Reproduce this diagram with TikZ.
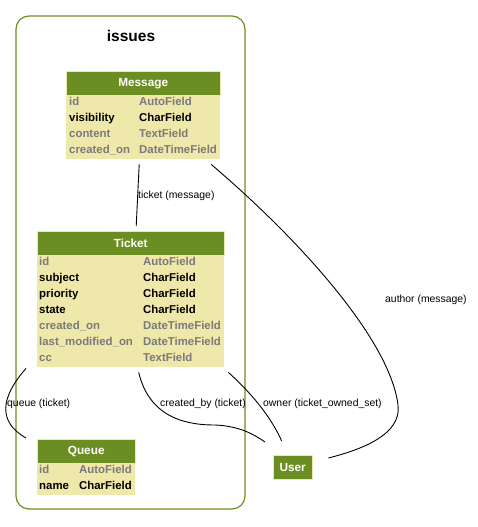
\documentclass[tikz,border=0pt]{standalone}
\usepackage{fontspec}
\setmainfont{Liberation Sans}
\definecolor{olivedrab}{HTML}{6B8E23}
\definecolor{palegold}{HTML}{EEE8AA}
\definecolor{fieldgray}{HTML}{7A7A7A}
\tikzset{
    modelhead/.style={fill=olivedrab, draw=palegold, inner sep=0pt, text=white,
        font=\fontsize{11.8}{13}\selectfont\bfseries, anchor=north west},
    modelbody/.style={fill=palegold, inner sep=0pt, anchor=north west},
    fieldtext/.style={anchor=west, inner sep=0pt, text height=1.5ex, text depth=.25ex,
        font=\fontsize{11.4}{13}\selectfont\bfseries},
    edgelabel/.style={anchor=west, inner sep=0pt, font=\fontsize{10.4}{12}\selectfont},
    relation/.style={line width=0.9pt, black},
}

\begin{document}
\begin{tikzpicture}[x=1pt, y=-1pt]
            \useasboundingbox (0,0) rectangle (478,527);
            % app cluster
            \draw [olivedrab, line width=1.2pt, rounded corners=13pt] (16,16) rectangle (245,509);
            \node [font=\fontsize{15.5}{18}\selectfont\bfseries] (title) at (131,36) {issues};

            % models
            \node [modelhead, minimum width=154pt, minimum height=24pt] (message) at (66,71) {Message};
            \node [modelbody, minimum width=154pt, minimum height=64pt] (messagebody) at (66,95) {};
            \foreach \f/\t/\c [count=\i from 0] in {id/AutoField/fieldgray, visibility/CharField/black,
                content/TextField/fieldgray, created\_on/DateTimeField/fieldgray}{
                \node [fieldtext, text=\c] (msgf\i) at (69,{102+16*\i}) {\f};
                \node [fieldtext, text=\c] (msgt\i) at (139,{102+16*\i}) {\t};
            }

            \node [modelhead, minimum width=187pt, minimum height=24pt] (ticket) at (37,231) {Ticket};
            \node [modelbody, minimum width=187pt, minimum height=112pt] (ticketbody) at (37,255) {};
            \foreach \f/\t/\c [count=\i from 0] in {id/AutoField/fieldgray, subject/CharField/black,
                priority/CharField/black, state/CharField/black, created\_on/DateTimeField/fieldgray,
                last\_modified\_on/DateTimeField/fieldgray, cc/TextField/fieldgray}{
                \node [fieldtext, text=\c] (tktf\i) at (39,{262+16*\i}) {\f};
                \node [fieldtext, text=\c] (tktt\i) at (143,{262+16*\i}) {\t};
            }

            \node [modelhead, minimum width=98pt, minimum height=24pt] (queue) at (37,439) {Queue};
            \node [modelbody, minimum width=98pt, minimum height=32pt] (queuebody) at (37,463) {};
            \foreach \f/\t/\c [count=\i from 0] in {id/AutoField/fieldgray, name/CharField/black}{
                \node [fieldtext, text=\c] (quef\i) at (39,{470+16*\i}) {\f};
                \node [fieldtext, text=\c] (quet\i) at (79,{470+16*\i}) {\t};
            }

            \node [modelhead, minimum width=39pt, minimum height=24pt] (user) at (273,455) {User};

            % relations
            \draw [relation] ([xshift=-4pt,yshift=-5pt]messagebody.south) -- ([xshift=5.5pt,yshift=5pt]ticket.north);
            \node [edgelabel] (lblmessage) at (138,195.5) {ticket (message)};

            \draw [relation] ([xshift=68pt,yshift=-5pt]messagebody.south)
                .. controls (300,240) and (390,340) .. (398,405)
                .. controls (402,435) and (360,450) .. ([xshift=16pt,yshift=-3pt]user.north east);
            \node [edgelabel] (lblauthor) at (385,299.5) {author (message)};

            \draw [relation] ([xshift=-11pt,yshift=-1pt]ticketbody.south west)
                .. controls (0,398) and (-2,422) .. ([xshift=-11pt,yshift=1pt]queue.north west);
            \node [edgelabel] (lblqueue) at (7,403.5) {queue (ticket)};

            \draw [relation] ([xshift=8pt,yshift=-5pt]ticketbody.south)
                .. controls (150,420) and (190,425) .. (215,425)
                .. controls (240,426) and (255,435) .. ([xshift=-8pt,yshift=13pt]user.north west);
            \node [edgelabel] (lblcreated) at (160,403.5) {created\_by (ticket)};

            \draw [relation] ([xshift=4pt,yshift=-5pt]ticketbody.south east)
                .. controls (250,392) and (270,415) .. ([xshift=-11pt,yshift=14pt]user.north);
            \node [edgelabel] (lblowner) at (263,403.5) {owner (ticket\_owned\_set)};
\end{tikzpicture}
\end{document}
